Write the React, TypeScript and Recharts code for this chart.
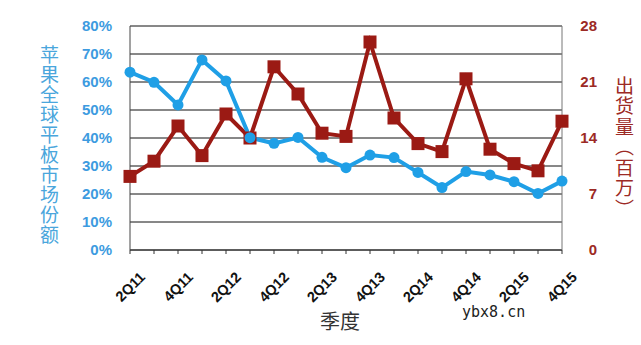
import React from "react";
import { LineChart, Line, XAxis, YAxis, CartesianGrid } from "recharts";

const quarters = [
  "2Q11", "3Q11", "4Q11", "1Q12", "2Q12", "3Q12", "4Q12", "1Q13", "2Q13", "3Q13",
  "4Q13", "1Q14", "2Q14", "3Q14", "4Q14", "1Q15", "2Q15", "3Q15", "4Q15",
];
const marketShare = [63.5, 59.9, 51.8, 67.9, 60.4, 40.1, 38.1, 40.2, 33.1, 29.4, 33.9, 33.0, 27.7, 22.3, 28.0, 26.8, 24.4, 20.2, 24.6];
const shipments = [9.2, 11.1, 15.5, 11.8, 17.0, 14.0, 22.9, 19.5, 14.6, 14.2, 26.0, 16.5, 13.3, 12.3, 21.4, 12.6, 10.8, 9.9, 16.1];
const leftTicks = [0, 10, 20, 30, 40, 50, 60, 70, 80];
const rightTicks = [0, 7, 14, 21, 28];

const BLUE = "#1f9fe6";
const RED = "#9b1a14";
const FONT = "'Liberation Sans', Arial, sans-serif";
const CJK = "'Noto Sans CJK SC', sans-serif";

const data = quarters.map((q, i) => ({ q, share: marketShare[i], units: shipments[i] }));

function XTick(props: any) {
  const { x, y, payload, index } = props;
  if (index % 2 === 1) return <g />;
  return (
    <text
      transform={`translate(${x + 16},${y + 22}) rotate(-45)`}
      textAnchor="end"
      fontFamily={FONT}
      fontWeight="bold"
      fontSize={14.5}
      fill="#111"
    >
      {payload.value}
    </text>
  );
}

function RightTick(props: any) {
  const { x, y, payload } = props;
  return (
    <text x={x + 35} y={y} dy="0.36em" textAnchor="end" fontFamily={FONT} fontWeight="bold" fontSize={15} fill="#9c2a25">
      {payload.value}
    </text>
  );
}

function Square(props: any) {
  const { cx, cy } = props;
  if (cx == null || cy == null) return <g />;
  return <rect x={cx - 6.5} y={cy - 6.5} width={13} height={13} fill={RED} />;
}

export default function App() {
  return (
    <div style={{ position: "absolute", left: 0, top: 0, width: 641, height: 345, background: "#fff" }}>
      <LineChart width={641} height={345} data={data} margin={{ top: 26, right: 0, bottom: 0, left: 0 }}>
        <CartesianGrid yAxisId="left" vertical={false} stroke="#111" strokeWidth={1} />
        <XAxis
          dataKey="q"
          interval={0}
          height={95}
          tick={<XTick />}
          tickSize={4}
          stroke="#333"
          axisLine={{ stroke: "#333" }}
        />
        <YAxis
          yAxisId="left"
          width={130}
          domain={[0, 80]}
          ticks={leftTicks}
          tickFormatter={(v) => `${v}%`}
          tickLine={false}
          tickSize={0}
          tickMargin={18}
          axisLine={{ stroke: "#444" }}
          tick={{ fill: "#3d9be0", fontSize: 15, fontWeight: "bold", fontFamily: FONT }}
        />
        <YAxis
          yAxisId="right"
          orientation="right"
          width={79}
          domain={[0, 28]}
          ticks={rightTicks}
          tickLine={false}
          tickSize={0}
          tickMargin={0}
          axisLine={{ stroke: "#777" }}
          tick={<RightTick />}
        />
        <Line
          yAxisId="right"
          dataKey="units"
          stroke={RED}
          strokeWidth={4}
          dot={<Square />}
          activeDot={false}
          isAnimationActive={false}
        />
        <Line
          yAxisId="left"
          dataKey="share"
          stroke={BLUE}
          strokeWidth={4}
          dot={{ r: 5.5, fill: BLUE, stroke: BLUE, strokeWidth: 0 }}
          activeDot={false}
          isAnimationActive={false}
        />
      </LineChart>
      <div
        style={{
          position: "absolute",
          left: 39,
          top: 45,
          writingMode: "vertical-rl",
          textOrientation: "upright",
          fontFamily: CJK,
          fontSize: 19,
          lineHeight: "20px",
          letterSpacing: 1,
          color: "#4aa6dc",
        }}
      >
        苹果全球平板市场份额
      </div>
      <div
        style={{
          position: "absolute",
          left: 614,
          top: 76,
          writingMode: "vertical-rl",
          fontFamily: CJK,
          fontSize: 19,
          lineHeight: "20px",
          letterSpacing: 1.5,
          color: "#9c2a25",
        }}
      >
        出货量（百万）
      </div>
      <div
        style={{
          position: "absolute",
          left: 320,
          top: 309,
          fontFamily: CJK,
          fontSize: 20,
          lineHeight: "24px",
          color: "#333",
        }}
      >
        季度
      </div>
      <div
        style={{
          position: "absolute",
          left: 462,
          top: 303,
          fontFamily: "'DejaVu Sans Mono', monospace",
          fontSize: 15,
          color: "#222",
        }}
      >
        ybx8.cn
      </div>
    </div>
  );
}
